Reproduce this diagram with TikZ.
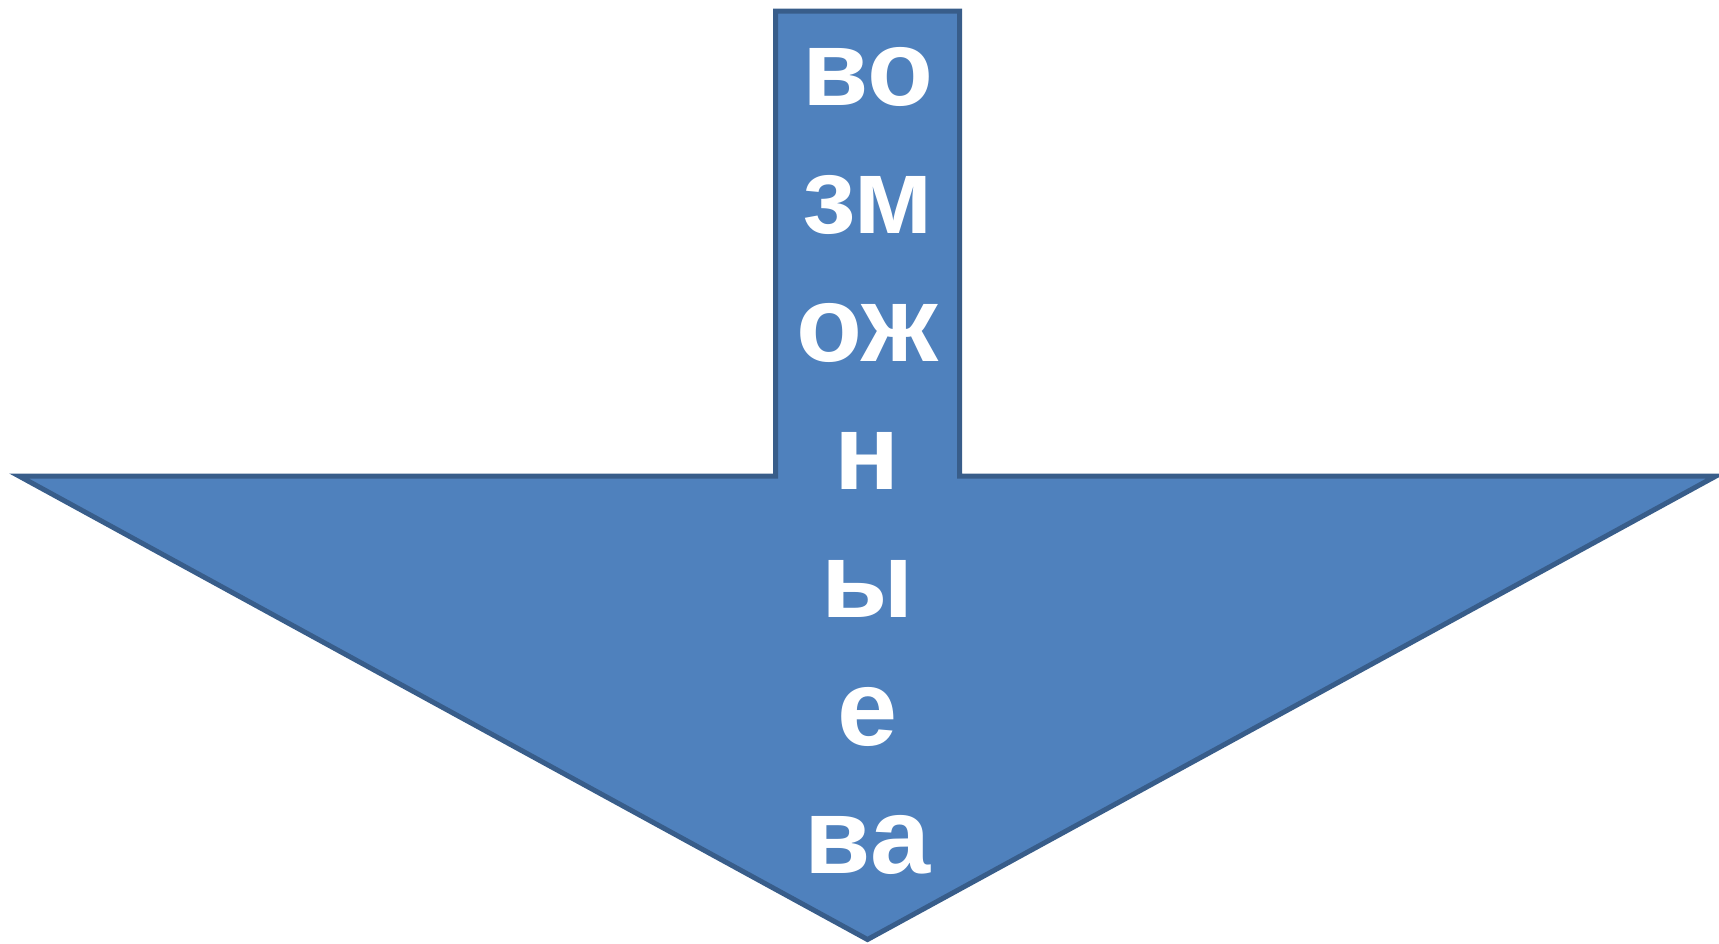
\documentclass[tikz,border=0pt]{standalone}
\usepackage{fontspec}
\setmainfont{Liberation Sans}
\definecolor{arrowfill}{HTML}{4F81BD}
\definecolor{arrowline}{HTML}{385D8A}
\begin{document}
\begin{tikzpicture}[x=1pt,y=-1pt,
  arrowshape/.style={fill=arrowfill,draw=arrowline,line width=5pt,line join=miter,miter limit=20},
  word/.style={text=white,font=\fontsize{108}{128}\selectfont\bfseries,anchor=base,inner sep=0pt}]
\useasboundingbox (0,0) rectangle (1719,943);
\path[arrowshape] (775.5,11) -- (959.5,11) -- (959.5,476) -- (1716,476) -- (867.5,939.5) -- (19,476) -- (775.5,476) -- cycle;
\node[word] (l1) at (867.5,105) {во};
\node[word] (l2) at (867.5,233.1) {зм};
\node[word] (l3) at (867.5,361.2) {ож};
\node[word] (l4) at (867.5,489.3) {н};
\node[word] (l5) at (867.5,617.4) {ы};
\node[word] (l6) at (867.5,745.5) {е};
\node[word] (l7) at (867.5,873.6) {ва};
\end{tikzpicture}
\end{document}
